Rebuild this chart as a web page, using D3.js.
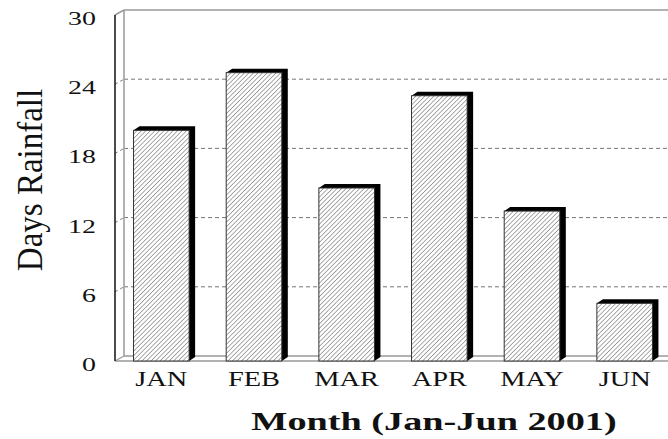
<!DOCTYPE html>
<html><head><meta charset="utf-8">
<script src="https://cdn.jsdelivr.net/npm/d3@7"></script>
<style>body{margin:0;background:#fff}</style>
</head><body>
<svg id="c" width="668" height="439"></svg>
<script>
const months = ["JAN","FEB","MAR","APR","MAY","JUN"];
const rainDays = [20, 25, 15, 23, 13, 5];
const yTicks = [0, 6, 12, 18, 24, 30];
const yTitle = "Days Rainfall";
const xTitle = "Month (Jan-Jun 2001)";

const svg = d3.select("#c");
const serif = "'Liberation Serif','Times New Roman',serif";
const W = 668;
const front = {left:115, bottom:361, top:15};
const depth = {dx:9, dy:-5};
const bDepth = {dx:6, dy:-4};

const y = d3.scaleLinear().domain([0,30]).range([front.bottom, front.top]);
const x = d3.scaleBand().domain(months).range([115, 671]).paddingInner(0.4).paddingOuter(0.2);

// hatch pattern
const defs = svg.append("defs");
const pat = defs.append("pattern").attr("id","hatch").attr("patternUnits","userSpaceOnUse")
  .attr("width",3.2).attr("height",3.2).attr("patternTransform","rotate(45)");
pat.append("rect").attr("width",3.2).attr("height",3.2).attr("fill","#fff");
pat.append("line").attr("x1",0).attr("y1",0).attr("x2",0).attr("y2",3.2)
  .attr("stroke","#555").attr("stroke-width",1);

const bx = front.left + depth.dx;
// back wall top
svg.append("line").attr("x1",bx).attr("x2",W).attr("y1",y(30)+depth.dy).attr("y2",y(30)+depth.dy)
  .attr("stroke","#999").attr("stroke-width",1.5);
// gridlines
const grid = yTicks.filter(v=>v>0 && v<30);
svg.selectAll(".g").data(grid).join("line")
  .attr("x1",bx).attr("x2",W).attr("y1",d=>y(d)+depth.dy).attr("y2",d=>y(d)+depth.dy)
  .attr("stroke","#777").attr("stroke-width",1).attr("stroke-dasharray","4,3");
svg.selectAll(".gs").data(grid).join("line")
  .attr("x1",front.left).attr("x2",bx).attr("y1",d=>y(d)).attr("y2",d=>y(d)+depth.dy)
  .attr("stroke","#777").attr("stroke-width",1).attr("stroke-dasharray","3,3");
// floor
svg.append("line").attr("x1",bx).attr("x2",W).attr("y1",y(0)+depth.dy).attr("y2",y(0)+depth.dy)
  .attr("stroke","#999").attr("stroke-width",1.5);
svg.append("line").attr("x1",front.left).attr("x2",W).attr("y1",y(0)).attr("y2",y(0))
  .attr("stroke","#999").attr("stroke-width",1.5);
svg.append("line").attr("x1",front.left).attr("x2",bx).attr("y1",y(0)).attr("y2",y(0)+depth.dy)
  .attr("stroke","#999").attr("stroke-width",1.2);
// left wall
svg.append("line").attr("x1",bx).attr("x2",bx).attr("y1",y(30)+depth.dy).attr("y2",y(0)+depth.dy)
  .attr("stroke","#999").attr("stroke-width",1.5);
svg.append("line").attr("x1",front.left).attr("x2",bx).attr("y1",y(30)).attr("y2",y(30)+depth.dy)
  .attr("stroke","#999").attr("stroke-width",1.5);
svg.append("line").attr("x1",front.left).attr("x2",front.left).attr("y1",y(30)).attr("y2",y(0))
  .attr("stroke","#111").attr("stroke-width",1.5);

// bars
const data = months.map((m,i)=>({m, v:rainDays[i]}));
const bars = svg.selectAll(".bar").data(data).join("g");
bars.append("path").attr("fill","#000").attr("d",d=>{
  const x0=x(d.m), x1=x0+x.bandwidth(), t=y(d.v), b=y(0);
  return `M${x0},${t}L${x0+bDepth.dx},${t+bDepth.dy}L${x1+bDepth.dx},${t+bDepth.dy}L${x1+bDepth.dx},${b+bDepth.dy}L${x1},${b}Z`;
});
bars.append("rect").attr("x",d=>x(d.m)).attr("y",d=>y(d.v))
  .attr("width",x.bandwidth()).attr("height",d=>y(0)-y(d.v))
  .attr("fill","url(#hatch)").attr("stroke","#333").attr("stroke-width",1);

// y tick labels
svg.selectAll(".yt").data(yTicks).join("text")
  .attr("transform",d=>`translate(96,${y(d)+10}) scale(1.55,1)`)
  .attr("text-anchor","end").attr("font-family",serif).attr("font-size",18).attr("fill","#111")
  .text(d=>d);
// x labels
svg.selectAll(".xt").data(months).join("text")
  .attr("transform",d=>`translate(${x(d)+x.bandwidth()/2},386) scale(1.42,1)`)
  .attr("text-anchor","middle").attr("font-family",serif).attr("font-size",20).attr("fill","#111")
  .text(d=>d);
// titles
svg.append("text").attr("transform","translate(434,430) scale(1.53,1)")
  .attr("text-anchor","middle").attr("font-family",serif).attr("font-weight","bold")
  .attr("font-size",25).attr("fill","#111").text(xTitle);
svg.append("text").attr("transform","translate(42,180) rotate(-90) scale(1,1.1)")
  .attr("text-anchor","middle").attr("font-family",serif)
  .attr("font-size",33).attr("fill","#111").text(yTitle);
</script>
</body></html>
